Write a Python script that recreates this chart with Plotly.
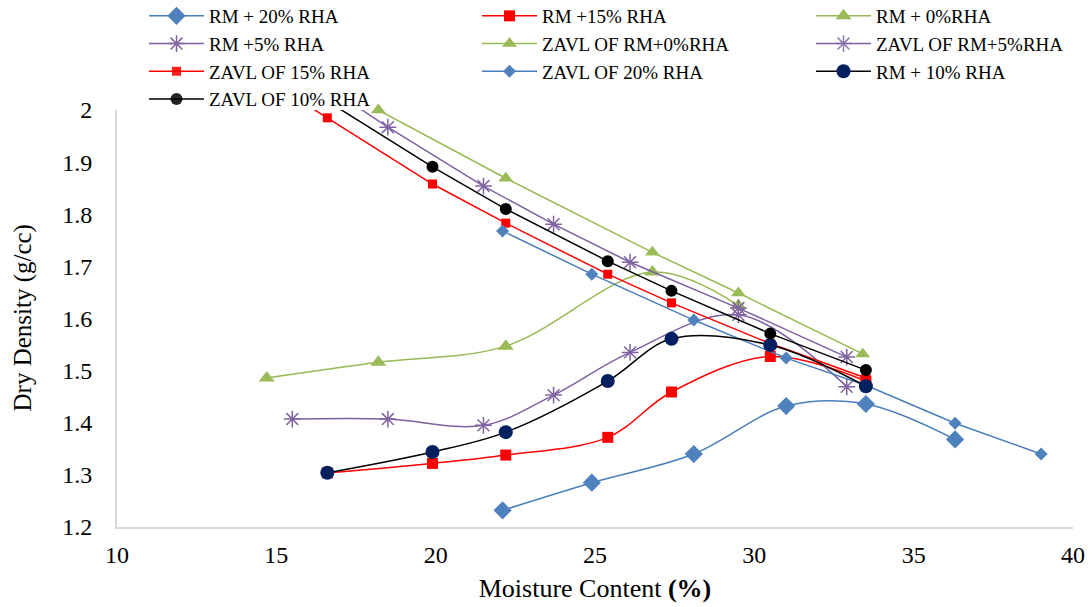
import plotly.graph_objects as go

# Moisture content (%) and dry density (g/cc) for each mix
rm20_x = [22.1, 24.9, 28.1, 31.0, 33.5, 36.3]
rm20_y = [1.232, 1.285, 1.340, 1.432, 1.436, 1.368]

rm15_x = [16.6, 19.9, 22.2, 25.4, 27.4, 30.5, 33.5]
rm15_y = [1.304, 1.322, 1.338, 1.372, 1.459, 1.527, 1.480]

rm0_x = [14.7, 18.2, 22.2, 26.8, 29.5]
rm0_y = [1.486, 1.516, 1.547, 1.689, 1.625]

rm5_x = [15.5, 18.5, 21.5, 23.7, 26.1, 29.5, 32.9]
rm5_y = [1.407, 1.407, 1.395, 1.453, 1.535, 1.607, 1.469]

rm10_x = [16.6, 19.9, 22.2, 25.4, 27.4, 30.5, 33.5]
rm10_y = [1.304, 1.344, 1.382, 1.480, 1.561, 1.549, 1.470]

# Zero air voids lines
zavl0_x = [18.2, 22.2, 26.8, 29.5, 33.4]
zavl0_y = [2.000, 1.869, 1.727, 1.649, 1.532]

zavl5_x = [15.5, 18.5, 21.5, 23.7, 26.1, 29.5, 32.9]
zavl5_y = [2.089, 1.967, 1.854, 1.781, 1.708, 1.620, 1.526]

zavl15_x = [14.7, 16.6, 19.9, 22.2, 25.4, 27.4, 30.5, 33.5]
zavl15_y = [2.058, 1.985, 1.858, 1.783, 1.685, 1.630, 1.552, 1.486]

zavl20_x = [22.1, 24.9, 28.1, 31.0, 33.5, 36.3, 39.0]
zavl20_y = [1.768, 1.685, 1.597, 1.524, 1.472, 1.399, 1.340]

zavl10_x = [16.6, 19.9, 22.2, 25.4, 27.4, 30.5, 33.5]
zavl10_y = [2.017, 1.891, 1.810, 1.710, 1.653, 1.571, 1.501]

Y_MAX = 2.0
FONT = "Times New Roman, Liberation Serif, serif"
W, H = 1092, 607
M_L, M_R, M_T, M_B = 117, 19, 110, 80
PLOT_H = H - M_T - M_B


def visible(ys):
    # hide markers that fall above the axis maximum; the line still runs to them
    return [1 if v <= Y_MAX + 1e-9 else 0 for v in ys]


def series(name, xs, ys, line_color, marker_color, symbol, size, smooth, legend):
    return go.Scatter(
        x=xs, y=ys, name=name, mode="lines+markers", legend=legend,
        line=dict(color=line_color, width=1.5,
                  shape="spline" if smooth else "linear", smoothing=1.0),
        marker=dict(color=marker_color, symbol=symbol, size=size,
                    opacity=visible(ys),
                    line=dict(color=marker_color, width=1.5 if "open" in symbol else 0)),
        cliponaxis=False,
    )


BLUE, BLUE_L = "#4F81BD", "#4A7EBB"
RED = "#FF0000"
GREEN, GREEN_L = "#9BBB59", "#98B954"
PURPLE, PURPLE_L = "#8064A2", "#7D60A0"
NAVY = "#002060"

fig = go.Figure([
    series("RM + 20% RHA", rm20_x, rm20_y, BLUE_L, BLUE, "diamond", 14, True, "legend"),
    series("RM +15% RHA", rm15_x, rm15_y, RED, RED, "square", 11, True, "legend2"),
    series("RM + 0%RHA", rm0_x, rm0_y, GREEN_L, GREEN, "triangle-up", 14, True, "legend3"),
    series("RM +5% RHA", rm5_x, rm5_y, PURPLE_L, PURPLE, "asterisk-open", 14, True, "legend"),
    series("ZAVL OF RM+0%RHA", zavl0_x, zavl0_y, GREEN_L, GREEN, "triangle-up", 13, False, "legend2"),
    series("ZAVL OF RM+5%RHA", zavl5_x, zavl5_y, PURPLE_L, PURPLE, "asterisk-open", 14, False, "legend3"),
    series("ZAVL OF 15% RHA", zavl15_x, zavl15_y, RED, RED, "square", 9, False, "legend"),
    series("ZAVL OF 20% RHA", zavl20_x, zavl20_y, BLUE_L, BLUE, "diamond", 10, False, "legend2"),
    series("RM + 10% RHA", rm10_x, rm10_y, "#000000", NAVY, "circle", 14, True, "legend3"),
    series("ZAVL OF 10% RHA", zavl10_x, zavl10_y, "#000000", "#000000", "circle", 12, False, "legend"),
])


def legend_box(x_px):
    # three legend columns laid out above the plot area
    return dict(
        orientation="v", xref="container", yref="paper",
        x=x_px / W, y=1 + (M_T + 3) / PLOT_H, xanchor="left", yanchor="top",
        itemwidth=55, font=dict(family=FONT, size=19),
        tracegroupgap=0, bgcolor="rgba(0,0,0,0)",
    )


fig.update_layout(
    width=W, height=H,
    margin=dict(l=M_L, r=M_R, t=M_T, b=M_B, autoexpand=False),
    paper_bgcolor="white", plot_bgcolor="white",
    font=dict(family=FONT, color="#000000", size=20),
    showlegend=True,
    legend=legend_box(144),
    legend2=legend_box(477),
    legend3=legend_box(811),
    xaxis=dict(
        range=[10, 40], dtick=5, tick0=10, showgrid=False, zeroline=False,
        showline=True, linecolor="#D9D9D9", linewidth=2, ticks="",
        tickfont=dict(family=FONT, size=24), ticklabelstandoff=5,
        title=dict(text="Moisture Content <b>(%)</b>", font=dict(family=FONT, size=26), standoff=12),
    ),
    yaxis=dict(
        range=[1.2, Y_MAX], dtick=0.1, tick0=1.2, showgrid=False, zeroline=False,
        showline=True, linecolor="#D9D9D9", linewidth=2, ticks="",
        tickfont=dict(family=FONT, size=24), ticklabelstandoff=18,
    ),
    annotations=[dict(
        text="Dry Density (g/cc)", textangle=-90, showarrow=False,
        xref="paper", yref="paper", x=(22 - M_L) / (W - M_L - M_R), y=0.5,
        xanchor="center", yanchor="middle",
        font=dict(family=FONT, size=25, color="#000000"),
    )],
)

fig.write_html("out.html")
